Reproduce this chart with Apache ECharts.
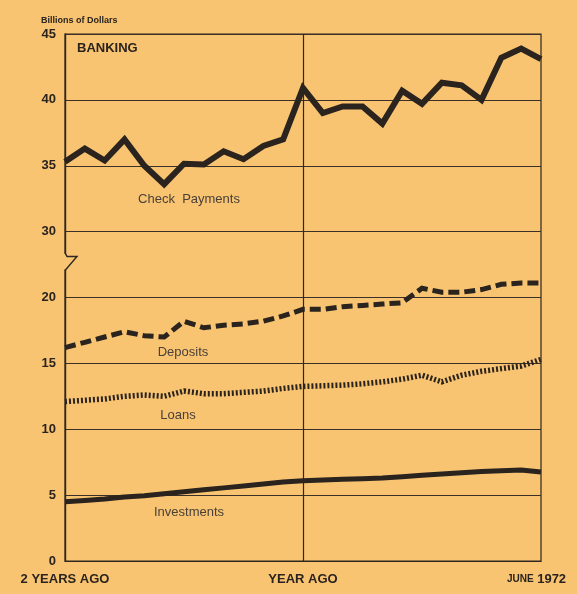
<!DOCTYPE html>
<html>
<head>
<meta charset="utf-8">
<script src="https://cdn.jsdelivr.net/npm/echarts@6/dist/echarts.min.js"></script>
<style>
  html, body { margin: 0; padding: 0; background: #F8C472; }
  #chart { width: 577px; height: 594px; }
</style>
</head>
<body>
<div id="chart"></div>
<script>
// Monthly observations, June 1970 through June 1972 (billions of dollars)
const months = [
  'Jun 1970', 'Jul 1970', 'Aug 1970', 'Sep 1970', 'Oct 1970', 'Nov 1970', 'Dec 1970',
  'Jan 1971', 'Feb 1971', 'Mar 1971', 'Apr 1971', 'May 1971', 'Jun 1971',
  'Jul 1971', 'Aug 1971', 'Sep 1971', 'Oct 1971', 'Nov 1971', 'Dec 1971',
  'Jan 1972', 'Feb 1972', 'Mar 1972', 'Apr 1972', 'May 1972', 'Jun 1972'
];
const checkPayments = [35.3, 36.3, 35.4, 37.0, 35.0, 33.6, 35.15, 35.1, 36.1, 35.5, 36.5, 37.0, 40.9,
  39.0, 39.5, 39.5, 38.2, 40.7, 39.7, 41.3, 41.1, 40.0, 43.2, 43.9, 43.1];
const deposits = [16.2, 16.6, 17.0, 17.4, 17.1, 17.0, 18.2, 17.7, 17.9, 18.0, 18.2, 18.6, 19.1,
  19.1, 19.3, 19.4, 19.5, 19.6, 20.7, 20.4, 20.4, 20.6, 21.0, 21.1, 21.1];
const loans = [12.1, 12.2, 12.3, 12.5, 12.6, 12.5, 12.9, 12.7, 12.7, 12.8, 12.9, 13.1, 13.25,
  13.3, 13.35, 13.45, 13.6, 13.8, 14.1, 13.6, 14.1, 14.4, 14.6, 14.8, 15.3];
const investments = [4.5, 4.6, 4.7, 4.85, 4.95, 5.1, 5.25, 5.4, 5.55, 5.7, 5.85, 6.0, 6.1,
  6.15, 6.2, 6.25, 6.3, 6.4, 6.5, 6.6, 6.7, 6.8, 6.85, 6.9, 6.75];

// Axis ticks: the scale is broken between 20 and 30
const yTickLabels = [0, 5, 10, 15, 20, 30, 35, 40, 45];
const xTickIndex = [0, 12, 24];
const xTickLabels = ['2 YEARS AGO', 'YEAR AGO', 'JUNE 1972'];

// Values above the break sit 5 units lower on the drawn axis
const BREAK_LOW = 20, BREAK_HIGH = 30, BREAK_SKIP = 5;
function toAxis(v) { return v >= BREAK_HIGH ? v - BREAK_SKIP : v; }
function fromAxis(v) { return v > BREAK_LOW ? v + BREAK_SKIP : v; }

const ink = '#2a231e';
const labelInk = '#4a4038';
const paper = '#F8C472';
const font = "'Liberation Sans', Arial, Helvetica, sans-serif";

const chart = echarts.init(document.getElementById('chart'), null, { renderer: 'canvas' });

function lineSeries(name, values, style) {
  return {
    name: name,
    type: 'line',
    data: values.map(toAxis),
    symbol: 'none',
    smooth: false,
    silent: true,
    lineStyle: Object.assign({ color: ink, join: 'miter', cap: 'butt' }, style),
    z: 5
  };
}

const axisMax = toAxis(yTickLabels[yTickLabels.length - 1]);

chart.setOption({
  backgroundColor: paper,
  animation: false,
  grid: {
    left: 65, right: 36, top: 34, bottom: 33,
    show: true,
    borderColor: '#2e2620',
    borderWidth: 1.2,
    backgroundColor: 'transparent'
  },
  xAxis: {
    type: 'category',
    data: months,
    boundaryGap: false,
    axisLine: { show: true, lineStyle: { color: '#2e2620', width: 1.2 } },
    axisTick: { show: false },
    splitLine: {
      show: true,
      interval: function (index) { return index === xTickIndex[1]; },
      lineStyle: { color: '#2e2620', width: 1.2 }
    },
    axisLabel: {
      interval: function (index) { return xTickIndex.indexOf(index) >= 0; },
      margin: 12,
      color: ink,
      fontFamily: font,
      fontWeight: 'bold',
      fontSize: 13,
      formatter: function (value, index) {
        const label = xTickLabels[xTickIndex.indexOf(index)] || '';
        const parts = label.split(' ');
        if (parts[0] === 'JUNE') return '{s|' + parts[0] + '} {n|' + parts.slice(1).join(' ') + '}';
        return label;
      },
      rich: {
        s: { fontFamily: font, fontWeight: 'bold', fontSize: 10, color: ink },
        n: { fontFamily: font, fontWeight: 'bold', fontSize: 13, color: ink, padding: [0, 9, 0, 0] }
      }
    }
  },
  yAxis: {
    type: 'value',
    min: 0,
    max: axisMax,
    interval: 5,
    axisLine: { show: true, lineStyle: { color: '#2e2620', width: 1.4 } },
    axisTick: { show: false },
    splitLine: { show: true, lineStyle: { color: '#3a3028', width: 1.1 } },
    axisLabel: {
      margin: 9,
      color: ink,
      fontFamily: font,
      fontWeight: 'bold',
      fontSize: 13,
      formatter: function (v) { return String(fromAxis(v)); }
    }
  },
  series: [
    lineSeries('Check Payments', checkPayments, { width: 6 }),
    lineSeries('Deposits', deposits, { width: 5, type: [11, 5] }),
    lineSeries('Loans', loans, { width: 5.5, type: [2, 2] }),
    lineSeries('Investments', investments, { width: 5 })
  ]
});

// Break mark on the value axis, between 20 and 30
const breakTop = chart.convertToPixel({ gridIndex: 0 }, [0, BREAK_LOW + 0.5 * BREAK_SKIP]);
const ax = breakTop[0], ay = breakTop[1] - 10;

const seriesLabelFont = '13px ' + font;
function label(text, x, y) {
  return {
    type: 'text',
    silent: true,
    style: { text: text, x: x, y: y, fill: labelInk, font: seriesLabelFont, textAlign: 'center', textVerticalAlign: 'middle' },
    z: 10
  };
}

chart.setOption({
  graphic: [
    {
      type: 'rect', silent: true,
      shape: { x: ax - 2, y: ay - 1, width: 4, height: 16 },
      style: { fill: paper }, z: 9
    },
    {
      type: 'polyline', silent: true,
      shape: { points: [[ax, ay - 2], [ax + 2, ay + 2], [ax + 12, ay + 2], [ax, ay + 16]] },
      style: { stroke: '#2e2620', lineWidth: 1.4, fill: null }, z: 10
    },
    {
      type: 'text', silent: true,
      style: { text: 'Billions of Dollars', x: 41, y: 21, fill: ink, font: 'bold 9px ' + font, textAlign: 'left', textVerticalAlign: 'middle' },
      z: 10
    },
    {
      type: 'text', silent: true,
      style: { text: 'BANKING', x: 77, y: 48, fill: ink, font: 'bold 13px ' + font, textAlign: 'left', textVerticalAlign: 'middle' },
      z: 10
    },
    label('Check  Payments', 189, 199),
    label('Deposits', 183, 352),
    label('Loans', 178, 415),
    label('Investments', 189, 512)
  ]
});
</script>
</body>
</html>
